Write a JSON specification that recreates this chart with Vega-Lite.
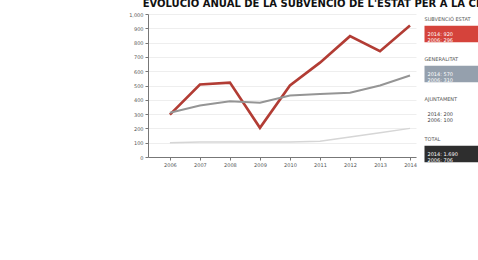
{
  "$schema": "https://vega.github.io/schema/vega-lite/v6.json",
  "autosize": {"type": "pad"},
  "padding": {"left": 128, "top": -1, "right": 0, "bottom": 0},
  "background": "white",
  "title": {
    "text": "EVOLUCIÓ ANUAL DE LA SUBVENCIÓ DE L'ESTAT PER A LA CIUTAT",
    "anchor": "start",
    "font": "DejaVu Sans",
    "fontSize": 10,
    "fontWeight": "bold",
    "color": "#111",
    "offset": 3,
    "dx": 14
  },
  "spacing": 7,
  "config": {
    "view": {"stroke": null},
    "axis": {"labelFont": "DejaVu Sans", "labelFontSize": 5, "labelColor": "#555", "domainColor": "#777", "tickColor": "#777", "tickSize": 3, "labelPadding": 2}
  },
  "hconcat": [
    {
      "width": 268,
      "height": 143,
      "data": {
        "values": [
          {"year": 2006, "serie": "Subvenció Estat", "value": 296},
          {"year": 2007, "serie": "Subvenció Estat", "value": 507},
          {"year": 2008, "serie": "Subvenció Estat", "value": 520},
          {"year": 2009, "serie": "Subvenció Estat", "value": 204},
          {"year": 2010, "serie": "Subvenció Estat", "value": 500},
          {"year": 2011, "serie": "Subvenció Estat", "value": 660},
          {"year": 2012, "serie": "Subvenció Estat", "value": 845},
          {"year": 2013, "serie": "Subvenció Estat", "value": 740},
          {"year": 2014, "serie": "Subvenció Estat", "value": 920},
          {"year": 2006, "serie": "Generalitat", "value": 310},
          {"year": 2007, "serie": "Generalitat", "value": 360},
          {"year": 2008, "serie": "Generalitat", "value": 390},
          {"year": 2009, "serie": "Generalitat", "value": 380},
          {"year": 2010, "serie": "Generalitat", "value": 430},
          {"year": 2011, "serie": "Generalitat", "value": 440},
          {"year": 2012, "serie": "Generalitat", "value": 450},
          {"year": 2013, "serie": "Generalitat", "value": 500},
          {"year": 2014, "serie": "Generalitat", "value": 570},
          {"year": 2006, "serie": "Ajuntament", "value": 100},
          {"year": 2007, "serie": "Ajuntament", "value": 105},
          {"year": 2008, "serie": "Ajuntament", "value": 105},
          {"year": 2009, "serie": "Ajuntament", "value": 105},
          {"year": 2010, "serie": "Ajuntament", "value": 105},
          {"year": 2011, "serie": "Ajuntament", "value": 110},
          {"year": 2012, "serie": "Ajuntament", "value": 140},
          {"year": 2013, "serie": "Ajuntament", "value": 170},
          {"year": 2014, "serie": "Ajuntament", "value": 200}
        ]
      },
      "mark": {"type": "line", "strokeJoin": "miter"},
      "encoding": {
        "x": {
          "field": "year", "type": "quantitative",
          "scale": {"domain": [2005.27, 2014.2], "nice": false, "zero": false},
          "axis": {"values": [2006, 2007, 2008, 2009, 2010, 2011, 2012, 2013, 2014], "format": "d", "grid": false, "title": null}
        },
        "y": {
          "field": "value", "type": "quantitative",
          "scale": {"domain": [0, 1000], "nice": false},
          "axis": {"values": [0, 100, 200, 300, 400, 500, 600, 700, 800, 900, 1000], "grid": true, "gridColor": "#eeeeee", "title": null}
        },
        "color": {
          "field": "serie", "type": "nominal",
          "scale": {"domain": ["Subvenció Estat", "Generalitat", "Ajuntament"], "range": ["#b23c34", "#959595", "#d6d6d6"]},
          "legend": null
        },
        "strokeWidth": {
          "field": "serie", "type": "nominal",
          "scale": {"domain": ["Subvenció Estat", "Generalitat", "Ajuntament"], "range": [2.6, 1.4, 1.4]},
          "legend": null
        }
      }
    },
    {
      "width": 1,
      "height": 160,
      "data": {
        "values": [
          {"serie": "Subvenció Estat", "caption": "SUBVENCIÓ ESTAT", "detail": ["2014: 920", "2006: 296"]},
          {"serie": "Generalitat", "caption": "GENERALITAT", "detail": ["2014: 570", "2006: 310"]},
          {"serie": "Ajuntament", "caption": "AJUNTAMENT", "detail": ["2014: 200", "2006: 100"]},
          {"serie": "Total", "caption": "TOTAL", "detail": ["2014: 1.690", "2006: 706"]}
        ]
      },
      "encoding": {
        "y": {"field": "serie", "type": "nominal", "sort": null, "scale": {"paddingInner": 0, "paddingOuter": 0}, "axis": null}
      },
      "layer": [
        {
          "mark": {"type": "text", "align": "left", "baseline": "top", "font": "DejaVu Sans", "fontSize": 5, "color": "#555", "dy": -17},
          "encoding": {"text": {"field": "caption"}}
        },
        {
          "transform": [{"filter": "datum.serie != 'Ajuntament'"}],
          "mark": {"type": "point", "filled": true, "opacity": 1, "shape": "M0,-0.55H4V0.55H0Z", "size": 900},
          "encoding": {
            "color": {"field": "serie", "type": "nominal", "scale": {"domain": ["Subvenció Estat", "Generalitat", "Ajuntament", "Total"], "range": ["#d5433b", "#95a0ad", "#ffffff", "#2e2e2e"]}, "legend": null}
          }
        },
        {
          "mark": {"type": "text", "align": "left", "baseline": "middle", "font": "DejaVu Sans", "fontSize": 5, "dx": 3, "lineHeight": 6},
          "encoding": {
            "text": {"field": "detail"},
            "color": {"condition": {"test": "datum.serie == 'Ajuntament'", "value": "#444"}, "value": "#ffffff"}
          }
        }
      ],
      "resolve": {"scale": {"color": "independent"}}
    }
  ],
  "resolve": {"scale": {"color": "independent", "y": "independent"}}
}
